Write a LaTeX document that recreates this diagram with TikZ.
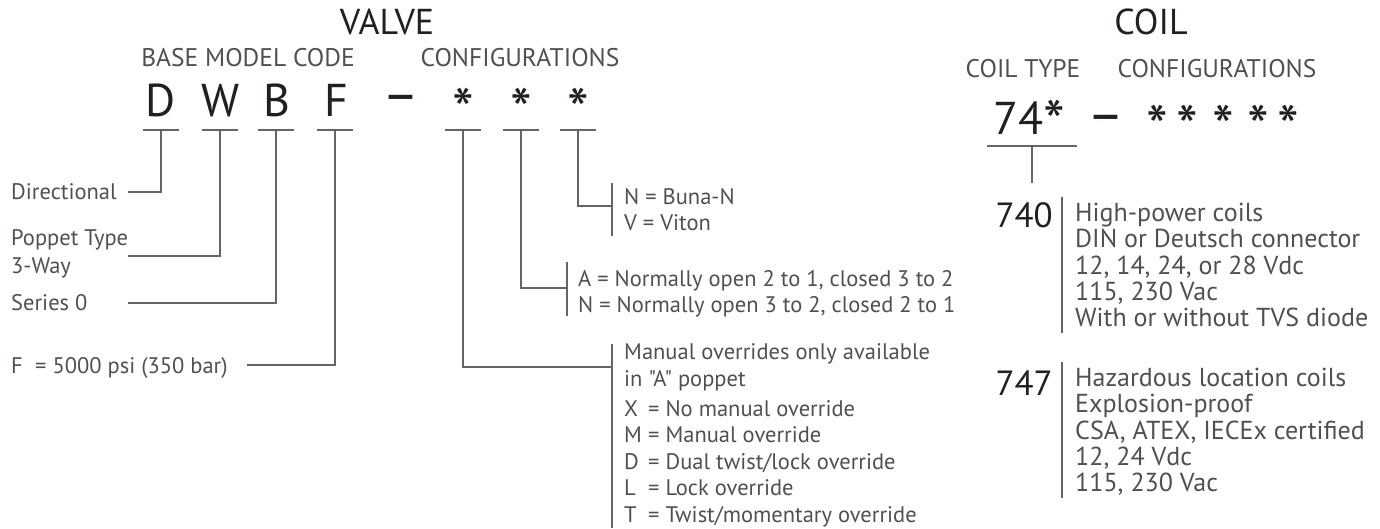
\documentclass[tikz,border=0pt]{standalone}
\usepackage{fontspec}
\setmainfont{PT Sans}[Ligatures=TeXOff]
\usetikzlibrary{positioning}
\definecolor{ink}{HTML}{231F20}
\definecolor{txt}{HTML}{4F5052}
\definecolor{rule}{HTML}{646567}
\tikzset{
  head/.style={font=\fontsize{36}{36}\selectfont, text=ink, inner sep=0pt, anchor=base},
  subhead/.style={font=\fontsize{25.5}{25.5}\selectfont, text=txt, inner sep=0pt, anchor=base},
  code/.style={font=\fontsize{46}{46}\selectfont, text=ink, inner sep=0pt, anchor=base},
  star/.style={font=\fontsize{62}{62}\selectfont, text=ink, inner sep=0pt, anchor=north},
  dashmark/.style={font=\fontsize{56}{56}\selectfont, text=ink, inner sep=0pt, anchor=north},
  coilno/.style={font=\fontsize{35}{35}\selectfont, text=ink, inner sep=0pt, anchor=base east},
  note/.style={font=\fontsize{22.5}{26.5}\selectfont, text=txt, inner sep=0pt, anchor=north west, align=left},
  coilnote/.style={note, font=\fontsize{26}{26.3}\selectfont},
  label/.style={font=\fontsize{22.5}{28}\selectfont, text=txt, inner sep=0pt, anchor=base west, align=left},
  lead/.style={draw=rule, line width=2.6pt},
}
\begin{document}
\begin{tikzpicture}[x=1pt, y=-1pt]
\useasboundingbox (0,0) rectangle (1380,529);

% valve heading
\node[head] (valve) at (387,35) {VALVE};
\node[subhead] (base) at (248,67) {BASE MODEL CODE};
\node[subhead] (vconf) at (520,67) {CONFIGURATIONS};

\foreach \n/\x in {D/161, W/221, B/277, F/336}
\node[code] (\n) at (\x,117) {\n};
\node[dashmark] (vdash) at (401,95) {–};
\foreach \n/\x in {s1/463, s2/521, s3/578}
\node[star] (\n) at (\x,88) {*};

% underlines
\foreach \n/\x in {Du/161, Wu/220, Bu/276, Fu/335, s1u/463, s2u/521, s3u/578}
{
\coordinate (\n) at (\x,130);
\draw[lead] ([xshift=-18pt]\n) -- ([xshift=18pt]\n);
}

% base model code labels
\node[label] (dir) at (11,200) {Directional};
\node[label] (pop) at (11,273) {Poppet Type\\3-Way};
\node[label] (ser) at (11,310) {Series 0};
\node[label] (psi) at (11,373) {\makebox[24pt][l]{F}= 5000 psi (350 bar)};

\coordinate (dirend) at (128,192);
\coordinate (popend) at (128,256);
\coordinate (serend) at (128,303);
\coordinate (psiend) at (247,365);
\draw[lead] (Du) |- (dirend);
\draw[lead] (Wu) |- (popend);
\draw[lead] (Bu) |- (serend);
\draw[lead] (Fu) |- (psiend);

% configuration labels
\node[note] (seal) at (624,188) {N = Buna-N\\V = Viton};
\node[note] (flow) at (578,270) {A = Normally open 2 to 1, closed 3 to 2\\N = Normally open 3 to 2, closed 2 to 1};
\node[note] (ovr) at (624,343.5) {Manual overrides only available\\in "A" poppet\\[3.5pt]
\makebox[24pt][l]{X}= No manual override\\
\makebox[24pt][l]{M}= Manual override\\
\makebox[24pt][l]{D}= Dual twist/lock override\\
\makebox[24pt][l]{L}= Lock override\\
\makebox[24pt][l]{T}= Twist/momentary override};

\draw[lead] (612,183) -- (612,236);
\draw[lead] (567,262) -- (567,316);
\draw[lead] (612,344) -- (612,528);
\coordinate (sealend) at (612,206);
\coordinate (flowend) at (567,288);
\coordinate (ovrend) at (612,367);
\draw[lead] (s3u) |- (sealend);
\draw[lead] (s2u) |- (flowend);
\draw[lead] (s1u) |- (ovrend);

% coil
\node[head] (coil) at (1151,35) {COIL};
\node[subhead] (ctype) at (1023,78) {COIL TYPE};
\node[subhead] (cconf) at (1217,78) {CONFIGURATIONS};
\node[code, anchor=base west] (ct) at (993,135) {74\raisebox{-10pt}{\fontsize{62}{62}\selectfont*}};
\node[dashmark] (cdash) at (1106,115) {–};
\foreach \x in {1157,1187,1223,1258,1288}
\node[star] at (\x,105) {*};

\coordinate (ctu) at (1032,146);
\coordinate (ctend) at (1032,183);
\draw[lead] (987,146) -- (1077,146);
\draw[lead] (ctu) -- (ctend);

\node[coilno] (c740) at (1053,228) {740};
\node[coilno] (c747) at (1053,395) {747};
\draw[lead] (1062,197) -- (1062,333);
\draw[lead] (1062,362) -- (1062,498);
\node[coilnote] (hp) at (1075,203) {High-power coils\\DIN or Deutsch connector\\12, 14, 24, or 28 Vdc\\115, 230 Vac\\With or without TVS diode};
\node[coilnote] (haz) at (1075,368) {Hazardous location coils\\Explosion-proof\\CSA, ATEX, IECEx certified\\12, 24 Vdc\\115, 230 Vac};
\end{tikzpicture}
\end{document}
